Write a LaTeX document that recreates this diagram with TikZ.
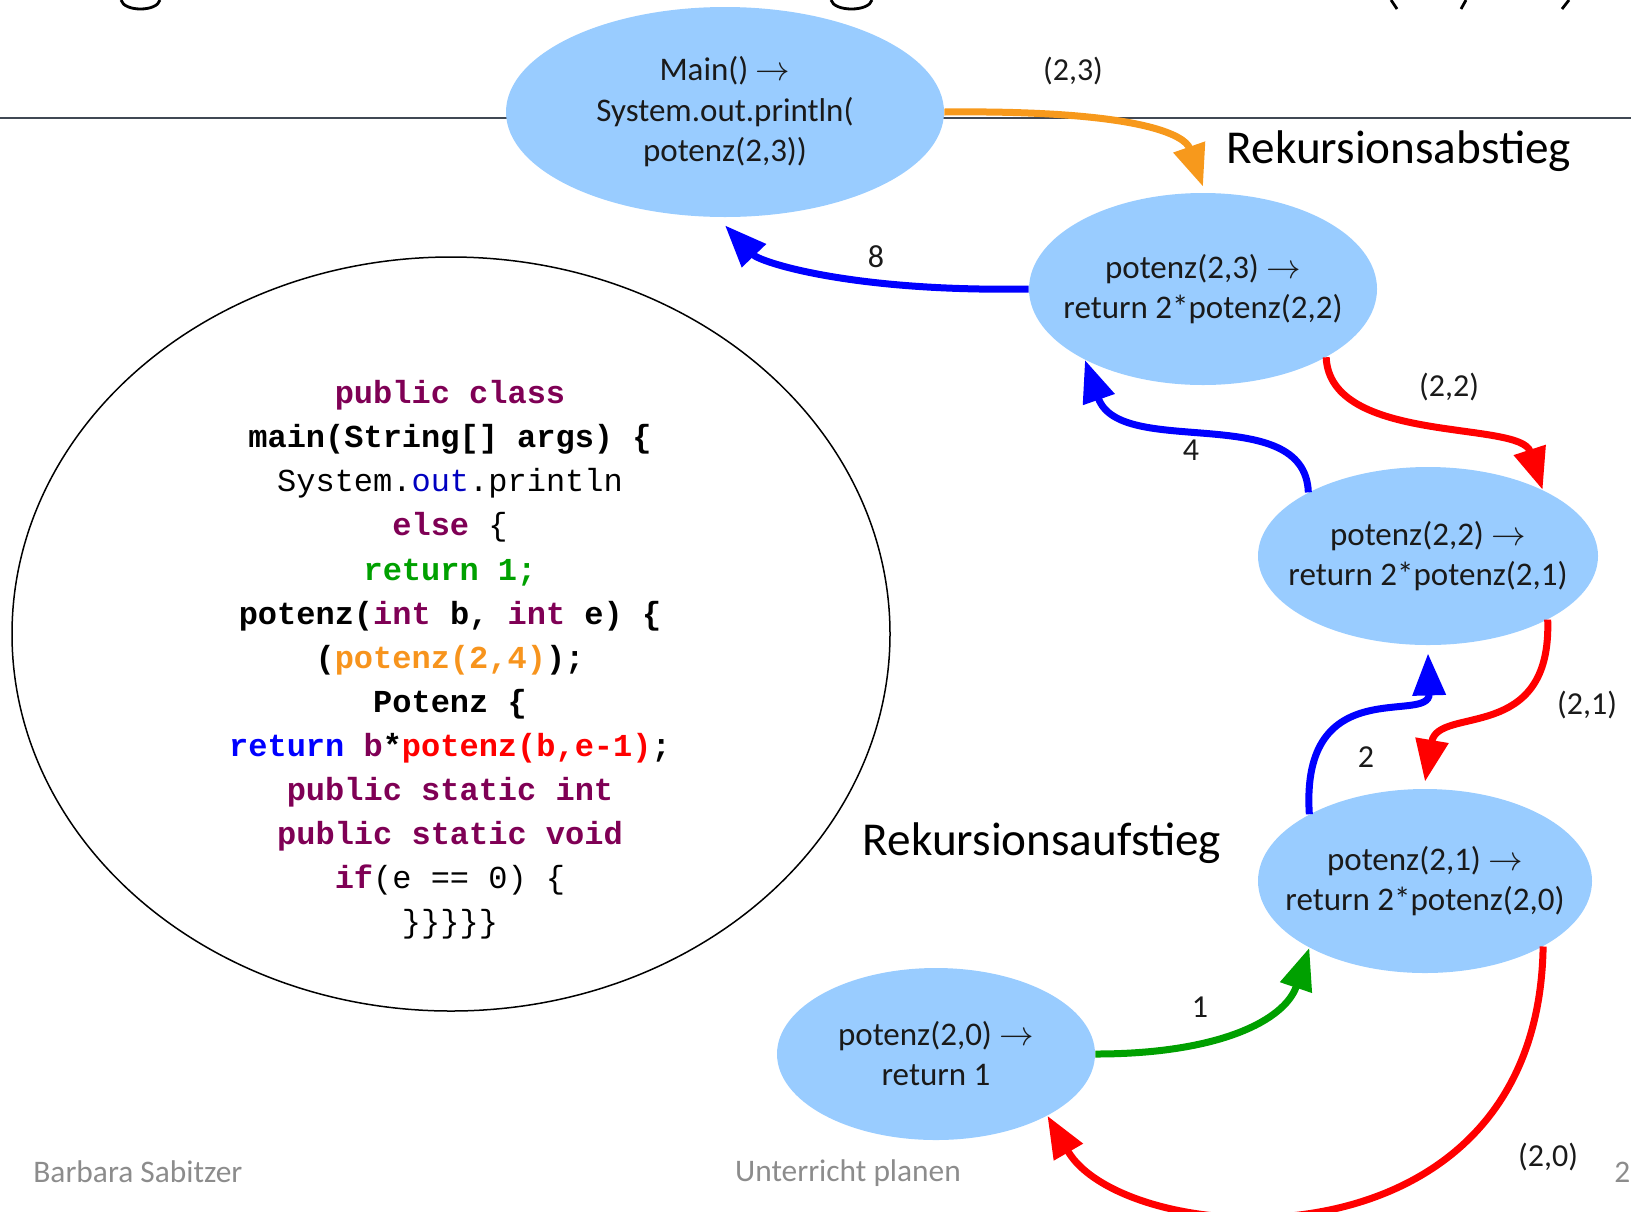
\documentclass[tikz,border=0pt]{standalone}
\usepackage{fontspec}
\setmainfont{Carlito}
\newfontfamily\codefont{Liberation Mono}
\usetikzlibrary{shapes.geometric,arrows.meta}
\definecolor{nodeblue}{HTML}{99CCFF}
\definecolor{kwpurple}{HTML}{7F0055}
\definecolor{outblue}{HTML}{0000C0}
\definecolor{codegreen}{HTML}{00A000}
\definecolor{codeorange}{HTML}{F7941D}
\definecolor{arrblue}{HTML}{0000FF}
\definecolor{arrred}{HTML}{FF0000}
\definecolor{arrgreen}{HTML}{00A000}
\definecolor{arrorange}{HTML}{F7991C}
\definecolor{rulegray}{HTML}{404854}
\definecolor{footgray}{HTML}{8C8C8C}
\definecolor{txt}{HTML}{1A1A1A}
\begin{document}
\begin{tikzpicture}[x=0.5pt,y=-0.5pt,
  bubble/.style={ellipse, fill=nodeblue, draw=none, inner sep=0pt},
  btext/.style={align=center, text=txt, font=\fontsize{16.5}{20}\selectfont, inner sep=0pt},
  flow/.style={line width=3.5pt, -{Triangle[length=21pt,width=16pt]}},
  lbl/.style={text=txt, font=\fontsize{16}{19}\selectfont, inner sep=0pt},
  big/.style={text=black, font=\fontsize{23.6}{28}\selectfont, inner sep=0pt},
  foot/.style={text=footgray, font=\fontsize{15.7}{19}\selectfont, inner sep=0pt},
  frag/.style={line width=1.4pt, black}]
\useasboundingbox (0,0) rectangle (1631,1211);

% cut-off title fragments
\draw[frag] (121,0) .. controls (124,12) and (157,12) .. (160,0);
\draw[frag] (831,0) .. controls (834,12) and (869,12) .. (872,0);
\draw[frag] (1391,0) -- (1397,9);
\draw[frag] (1466,0) -- (1461,9);
\draw[frag] (1569,0) -- (1562,9);

% horizontal rule
\draw[rulegray, line width=1pt] (0,118) -- (1631,118);

% code ellipse
\node[ellipse, draw=black, line width=0.75pt, minimum width=439pt, minimum height=377pt, inner sep=0pt] (code) at (451,634) {};
\node[align=center, inner sep=0pt, font=\codefont\fontsize{16}{22.05}\selectfont] (codetext) at (450,660) {%
{\bfseries\color{kwpurple}public class}\\
{\bfseries main(String[] args) \{}\\
System.{\color{outblue}out}.println\\
{\bfseries\color{kwpurple}else} \{\\
{\bfseries\color{codegreen}return 1;}\\
{\bfseries potenz({\color{kwpurple}int} b, {\color{kwpurple}int} e) \{}\\
{\bfseries ({\color{codeorange}potenz(2,4)});}\\
{\bfseries Potenz \{}\\
{\bfseries{\color{arrblue}return} {\color{kwpurple}b}*{\color{arrred}potenz(b,e-1)};}\\
{\bfseries\color{kwpurple}public static int}\\
{\bfseries\color{kwpurple}public static void}\\
{\bfseries\color{kwpurple}if}(e == 0) \{\\
\}\}\}\}\}};

% bubbles
\node[bubble, minimum width=219pt, minimum height=105pt] (main) at (725,112) {};
\node[btext, font=\fontsize{16.5}{20.25}\selectfont] (maint) at (main.center) {Main() $\rightarrow$\\System.out.println(\\potenz(2,3))};
\node[bubble, minimum width=174pt, minimum height=96pt] (p23) at (1203,289) {};
\node[btext] (p23t) at (p23.center) {potenz(2,3) $\rightarrow$\\return 2*potenz(2,2)};
\node[bubble, minimum width=170pt, minimum height=89pt] (p22) at (1428,556) {};
\node[btext] (p22t) at (p22.center) {potenz(2,2) $\rightarrow$\\return 2*potenz(2,1)};
\node[bubble, minimum width=167pt, minimum height=92pt] (p21) at (1425,881) {};
\node[btext] (p21t) at (p21.center) {potenz(2,1) $\rightarrow$\\return 2*potenz(2,0)};
\node[bubble, minimum width=159pt, minimum height=86pt] (p20) at (936,1054) {};
\node[btext] (p20t) at (p20.center) {potenz(2,0) $\rightarrow$\\return 1};

% connectors
\draw[flow, arrorange] (main.east) .. controls (1140,110) and (1185,135) .. ([yshift=3pt]p23.north);
\draw[flow, arrblue] (p23.west) .. controls (850,292) and (760,262) .. ([yshift=-4pt]main.south);
\draw[flow, arrred] (p23.331) .. controls (1330,445) and (1520,420) .. (p22.30);
\draw[flow, arrblue] (p22.152) .. controls (1305,400) and (1120,460) .. (p23.211);
\draw[flow, arrred] (p22.332) .. controls (1552,745) and (1438,705) .. ([yshift=3.5pt]p21.north);
\draw[flow, arrblue] (p21.150) .. controls (1300,670) and (1430,725) .. ([yshift=-4pt]p22.south);
\draw[flow, arrgreen] (p20.east) .. controls (1220,1054) and (1285,1020) .. (p21.210);
\draw[flow, arrred] (p21.331) .. controls (1538,1280) and (1125,1250) .. (p20.331);

% labels
\node[lbl] (l23) at (1073,71) {(2,3)};
\node[lbl] (l8) at (876,257) {8};
\node[lbl] (l22) at (1449,387) {(2,2)};
\node[lbl] (l4) at (1191,450) {4};
\node[lbl] (l21) at (1587,705) {(2,1)};
\node[lbl] (l2) at (1366,757) {2};
\node[lbl] (l1) at (1200,1007) {1};
\node[lbl] (l20) at (1548,1157) {(2,0)};

\node[big] (abst) at (1399,151) {Rekursionsabstieg};
\node[big] (aufst) at (1042,843) {Rekursionsaufstieg};

% footer
\node[foot, anchor=west] (author) at (33,1172) {Barbara Sabitzer};
\node[foot] (topic) at (848,1173) {Unterricht planen};
\node[foot, anchor=west] (page) at (1614,1172) {2};
\end{tikzpicture}
\end{document}
